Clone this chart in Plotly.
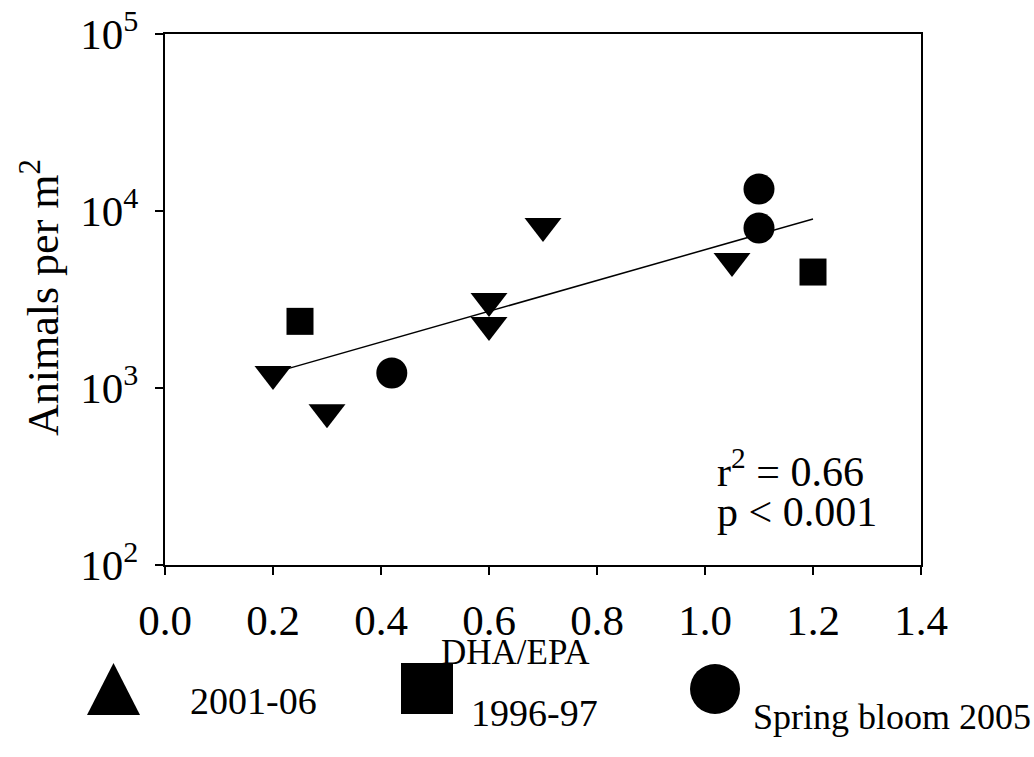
import numpy as np
import plotly.graph_objects as go

# ---- data -------------------------------------------------------------
tri_x = [0.2, 0.3, 0.6, 0.6, 0.7, 1.05]          # 2001-06
tri_y = [1200, 730, 3100, 2270, 8230, 5220]

sq_x = [0.25, 1.2]                                # 1996-97
sq_y = [2380, 4520]

circ_x = [0.42, 1.1, 1.1]                         # Spring bloom 2005
circ_y = [1215, 13300, 8020]

x_ticks = [0.0, 0.2, 0.4, 0.6, 0.8, 1.0, 1.2, 1.4]
y_ticks = [1e2, 1e3, 1e4, 1e5]
y_tick_text = ["10<sup>2</sup>", "10<sup>3</sup>", "10<sup>4</sup>", "10<sup>5</sup>"]

series_names = ["2001-06", "1996-97", "Spring bloom 2005"]
stats_text = ["r<sup>2</sup> = 0.66", "p &lt; 0.001"]

# ---- figure geometry ----------------------------------------------------
W, H = 1034, 757
FONT = "Liberation Serif"


def px(x):
    return x / W


def py(y):
    return 1 - y / H


# log-linear regression of all points
all_x = np.array(tri_x + sq_x + circ_x)
all_y = np.log10(np.array(tri_y + sq_y + circ_y))
slope, intercept = np.polyfit(all_x, all_y, 1)
fit_x = np.array([all_x.min(), all_x.max()])
fit_y = 10 ** (intercept + slope * fit_x)

fig = go.Figure()

fig.add_trace(go.Scatter(x=fit_x, y=fit_y, mode="lines",
                         line=dict(color="black", width=1.5),
                         showlegend=False, hoverinfo="skip"))

marker_common = dict(color="black", line=dict(width=0))
fig.add_trace(go.Scatter(x=tri_x, y=tri_y, mode="markers", name=series_names[0],
                         marker=dict(symbol="triangle-down", size=32, **marker_common),
                         showlegend=False))
fig.add_trace(go.Scatter(x=sq_x, y=sq_y, mode="markers", name=series_names[1],
                         marker=dict(symbol="square", size=27, **marker_common),
                         showlegend=False))
fig.add_trace(go.Scatter(x=circ_x, y=circ_y, mode="markers", name=series_names[2],
                         marker=dict(symbol="circle", size=31, **marker_common),
                         showlegend=False))

axis_style = dict(
    showline=True, linecolor="black", linewidth=2, mirror=True,
    ticks="outside", ticklen=8, tickwidth=2, tickcolor="black",
    showgrid=False, zeroline=False,
    tickfont=dict(family=FONT, size=43, color="black"),
)

fig.update_layout(
    width=W, height=H,
    margin=dict(l=0, r=0, t=0, b=0, autoexpand=False),
    paper_bgcolor="white", plot_bgcolor="white",
    showlegend=False,
    xaxis=dict(domain=[px(165), px(921)], range=[0, 1.4],
               tickvals=x_ticks, ticktext=[f"{v:.1f}" for v in x_ticks],
               ticklabelstandoff=8,
               **axis_style),
    yaxis=dict(type="log", domain=[py(565), py(34)], range=[2, 5],
               tickvals=y_ticks, ticktext=y_tick_text,
               ticklabelstandoff=8,
               **axis_style),
)

annotations = [
    dict(text=stats_text[0], x=px(715), y=py(468), xanchor="left", yanchor="middle",
         font=dict(family=FONT, size=42, color="black")),
    dict(text=stats_text[1], x=px(715), y=py(512), xanchor="left", yanchor="middle",
         font=dict(family=FONT, size=42, color="black")),
    dict(text="Animals per m<sup>2</sup>", x=px(40), y=py(298), textangle=-90,
         xanchor="center", yanchor="middle",
         font=dict(family=FONT, size=44, color="black")),
    dict(text="DHA/EPA", x=px(515), y=py(652), xanchor="center", yanchor="middle",
         font=dict(family=FONT, size=35, color="black")),
    dict(text=series_names[0], x=px(188), y=py(701), xanchor="left", yanchor="middle",
         font=dict(family=FONT, size=38, color="black")),
    dict(text=series_names[1], x=px(469), y=py(713), xanchor="left", yanchor="middle",
         font=dict(family=FONT, size=38, color="black")),
    dict(text=series_names[2], x=px(751), y=py(717), xanchor="left", yanchor="middle",
         font=dict(family=FONT, size=36, color="black")),
]
for a in annotations:
    a.update(xref="paper", yref="paper", showarrow=False)
fig.update_layout(annotations=annotations)

# legend key glyphs
shapes = [
    dict(type="path",
         path=f"M {px(87)},{py(715)} L {px(140)},{py(715)} L {px(113.5)},{py(663)} Z"),
    dict(type="rect", x0=px(401), x1=px(453), y0=py(714), y1=py(663)),
    dict(type="circle", x0=px(690), x1=px(740), y0=py(714), y1=py(664)),
]
for s in shapes:
    s.update(xref="paper", yref="paper", fillcolor="black", line=dict(width=0))
fig.update_layout(shapes=shapes)

fig.write_html("out.html")
